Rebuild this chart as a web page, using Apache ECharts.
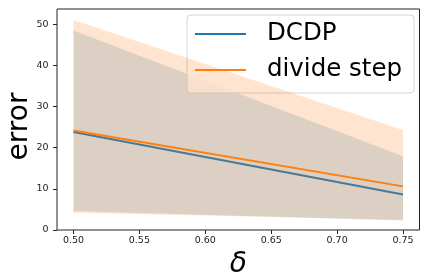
<!DOCTYPE html>
<html>
<head>
<meta charset="utf-8">
<script src="https://cdn.jsdelivr.net/npm/echarts@6/dist/echarts.min.js"></script>
<style>
html,body{margin:0;padding:0;background:#fff;}
#c{width:428px;height:276px;}
</style>
</head>
<body>
<div id="c"></div>
<script>
// x positions (delta)
const deltas = [0.5, 0.75];
// DCDP
const dcdpMean = [23.8, 8.6];
const dcdpLow = [4.6, 2.3];
const dcdpHigh = [48.5, 17.9];
// divide step
const divMean = [24.2, 10.6];
const divLow = [4.2, 2.5];
const divHigh = [51.0, 24.3];
// ticks
const xTicks = [0.5, 0.55, 0.6, 0.65, 0.7, 0.75];
const yTicks = [0, 10, 20, 30, 40, 50];

const BLUE = '#1f77b4', ORANGE = '#ff7f0e';
const pts = (ys) => deltas.map((x, i) => [x, ys[i]]);
const bandData = (lo, hi) => deltas.map((x, i) => [x, lo[i], hi[i]]);

function bandRender(fill) {
  return function (params, api) {
    if (params.dataIndex !== 0) return null;
    const upper = [], lower = [];
    for (let i = 0; i < deltas.length; i++) {
      const x = api.value(0, i), lo = api.value(1, i), hi = api.value(2, i);
      upper.push(api.coord([x, hi]));
      lower.push(api.coord([x, lo]));
    }
    const points = upper.concat(lower.reverse());
    return {
      type: 'polygon',
      shape: {points: points},
      style: {fill: fill, stroke: 'none'},
      silent: true
    };
  };
}

const chart = echarts.init(document.getElementById('c'), null, {renderer: 'canvas'});
const font = 'DejaVu Sans';
chart.setOption({
  animation: false,
  grid: {left: 57, right: 8.5, top: 9, bottom: 46, show: true, borderColor: '#222', borderWidth: 1,
    backgroundColor: 'transparent', outerBoundsMode: 'none', containLabel: false},
  xAxis: {
    type: 'value', min: 0.4875, max: 0.7625,
    name: 'δ', nameLocation: 'middle', nameGap: 14,
    nameTextStyle: {fontFamily: font, fontSize: 28, fontStyle: 'italic', color: '#000'},
    axisLine: {show: false},
    axisTick: {show: true, inside: false, length: 4, lineStyle: {color: '#222'}, customValues: xTicks},
    axisLabel: {fontFamily: font, fontSize: 9.5, color: '#222', margin: 6, customValues: xTicks,
      formatter: v => v.toFixed(2)},
    splitLine: {show: false}
  },
  yAxis: {
    type: 'value', min: 0, max: 53.7,
    name: 'error', nameLocation: 'middle', nameGap: 23, nameMoveOverlap: false,
    nameTextStyle: {fontFamily: font, fontSize: 28, color: '#000', padding: [0, 14, 0, 0]},
    axisLine: {show: false},
    axisTick: {show: true, inside: false, length: 4, lineStyle: {color: '#222'}, customValues: yTicks},
    axisLabel: {fontFamily: font, fontSize: 9.5, color: '#222', margin: 8.5, customValues: yTicks},
    splitLine: {show: false}
  },
  legend: {
    data: ['DCDP', 'divide step'],
    orient: 'vertical', left: 187, top: 15,
    icon: 'rect', itemWidth: 51, itemHeight: 2, itemGap: 8,
    padding: [5, 12, 9, 8],
    backgroundColor: 'rgba(255,255,255,0.8)', borderColor: '#d5d5d5', borderWidth: 1, borderRadius: 4,
    textStyle: {fontFamily: font, fontSize: 24.5, color: '#000', lineHeight: 28, padding: [0, 0, 0, 16]}
  },
  series: [
    {name: 'dcdpBand', type: 'custom', data: bandData(dcdpLow, dcdpHigh), renderItem: bandRender('rgba(31,119,180,0.2)'),
      encode: {x: 0, y: [1, 2]}, silent: true, clip: true, z: 2},
    {name: 'DCDP', type: 'line', data: pts(dcdpMean), symbol: 'none', itemStyle: {color: BLUE}, lineStyle: {color: BLUE, width: 2}, z: 3},
    {name: 'divBand', type: 'custom', data: bandData(divLow, divHigh), renderItem: bandRender('rgba(255,127,14,0.2)'),
      encode: {x: 0, y: [1, 2]}, silent: true, clip: true, z: 4},
    {name: 'divide step', type: 'line', data: pts(divMean), symbol: 'none', itemStyle: {color: ORANGE}, lineStyle: {color: ORANGE, width: 2}, z: 5}
  ]
});
</script>
</body>
</html>
